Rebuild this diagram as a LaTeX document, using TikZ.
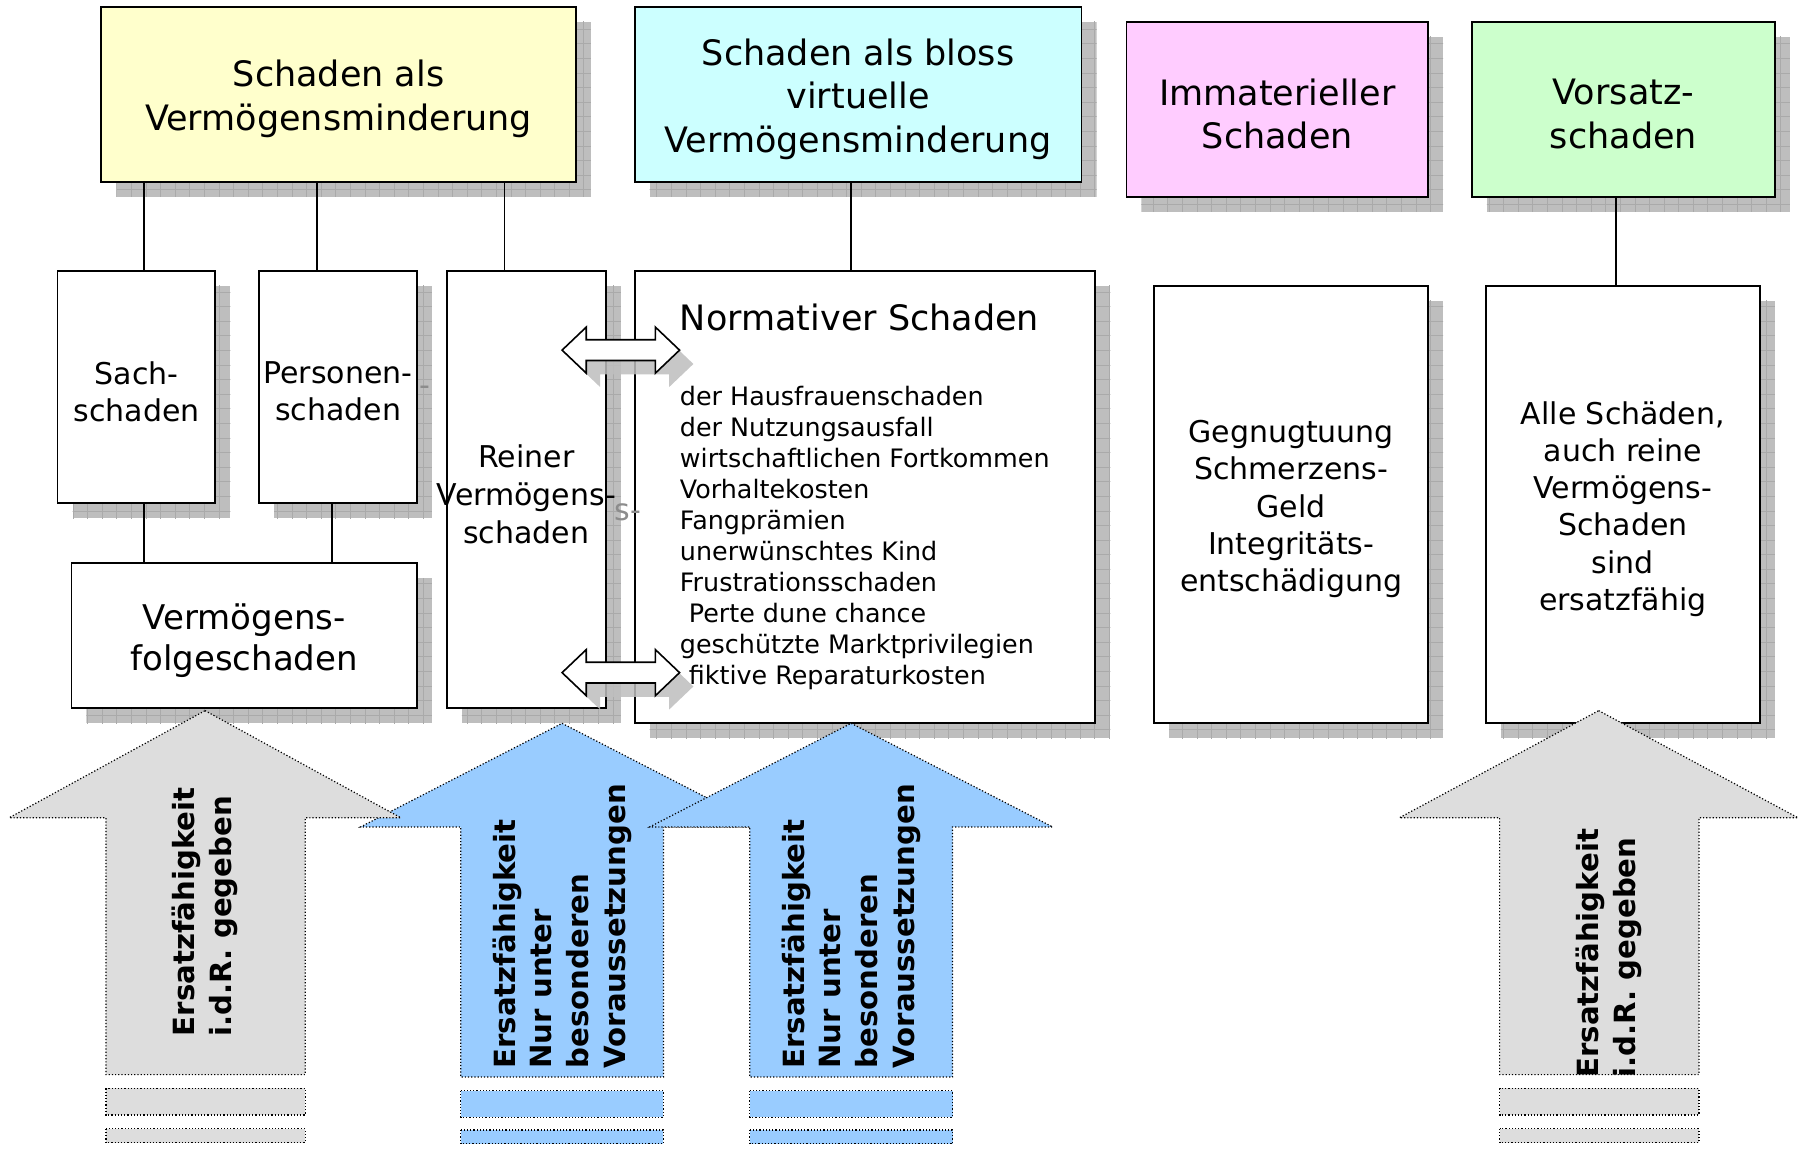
\documentclass[tikz,border=0pt]{standalone}
\usepackage{fontspec}
\setmainfont{DejaVu Sans}
\definecolor{yel}{HTML}{FFFFCC}
\definecolor{cya}{HTML}{CCFFFF}
\definecolor{pin}{HTML}{FFCCFF}
\definecolor{gre}{HTML}{CCFFCC}
\definecolor{arrgrey}{HTML}{DDDDDD}
\definecolor{arrblue}{HTML}{99CCFF}
\definecolor{shfill}{HTML}{BEBEBE}
\definecolor{shline}{HTML}{AAAAAA}
\definecolor{ghostc}{HTML}{8C8C8C}
\tikzset{
  boxst/.style={draw=black, line width=0.9pt, inner sep=0pt, outer sep=0pt},
  boxtext/.style={align=center, inner sep=0pt, yshift=-2.3pt},
  conn/.style={draw=black, line width=0.8pt},
  bigarrow/.style={draw=black, line width=0.6pt, densely dotted},
  arrtext/.style={rotate=90, anchor=west, align=left, inner sep=0pt,
     font=\fontsize{14.6}{18.4}\selectfont\bfseries},
  bigfont/.style={font=\fontsize{17.5}{21.8}\selectfont},
  midfont/.style={font=\fontsize{15}{18.6}\selectfont},
  ghost/.style={text=ghostc, inner sep=0pt, font=\fontsize{15}{18}\selectfont},
}
\newcommand\shadowrect[4]{%
  \begin{scope}
    \clip (#1+13,#2+13) rectangle (#3+13,#4+13);
    \fill[shfill] (#1+13,#2+13) rectangle (#3+13,#4+13);
    \draw[shline, line width=0.4pt, step=7.3pt] (#1,#4+30) grid (#3+30,#2);
  \end{scope}}
\newcommand\diabox[8]{%
  \shadowrect{#2}{#3}{#4}{#5}
  \node[boxst,fill=#6,minimum width={(#4-#2)*0.576pt},minimum height={(#5-#3)*0.576pt}]
     (#1) at ({(#2+#4)/2},{(#3+#5)/2}) {};
  \node[boxtext,#7] (#1-t) at (#1.center) {#8};}
\newcommand\darrpath[2]{(#1-51,#2) -- (#1-30,#2-20) -- (#1-30,#2-9) -- (#1+30,#2-9) --
  (#1+30,#2-20) -- (#1+51,#2) -- (#1+30,#2+20) -- (#1+30,#2+9) -- (#1-30,#2+9) --
  (#1-30,#2+20) -- cycle}
\newcommand\darr[2]{%
  \fill[shfill, opacity=0.85] \darrpath{#1+12}{#2+12};
  \filldraw[draw=black, fill=white, line width=0.8pt] \darrpath{#1}{#2};}
\begin{document}
\begin{tikzpicture}[x=0.576pt,y=-0.576pt]
\fill[white] (0,0) rectangle (1568,998);
\useasboundingbox (0,0) rectangle (1568,998);

% top row
\diabox{A}{88}{6}{500}{158}{yel}{bigfont}{Schaden als\\Vermögensminderung}
\diabox{B}{551}{6}{939}{158}{cya}{bigfont}{Schaden als bloss\\virtuelle\\Vermögensminderung}
\diabox{C}{978}{19}{1240}{171}{pin}{bigfont}{Immaterieller\\Schaden}
\diabox{D}{1278}{19}{1541}{171}{gre}{bigfont}{Vorsatz-\\schaden}

% middle row
\diabox{sach}{50}{235}{187}{437}{white}{midfont}{Sach-\\schaden}
\diabox{pers}{225}{235}{362}{437}{white}{midfont}{Personen-\\schaden}
\diabox{rein}{388}{235}{526}{615}{white}{font=\fontsize{15}{19}\selectfont}{Reiner\\Vermögens-\\schaden}
\diabox{norm}{551}{235}{951}{628}{white}{}{}
\diabox{gegn}{1002}{248}{1240}{628}{white}{midfont}{Gegnugtuung\\Schmerzens-\\Geld\\Integritäts-\\entschädigung}
\diabox{alle}{1290}{248}{1528}{628}{white}{midfont}{Alle Schäden,\\auch reine\\Vermögens-\\Schaden\\sind\\ersatzfähig}
\diabox{vfs}{62}{489}{362}{615}{white}{font=\fontsize{17}{20.7}\selectfont}{Vermögens-\\folgeschaden}

\node[ghost] (g1) at (369,339) {-};
\node[ghost] (g2) at (545,445) {s-};

\node[anchor=west, inner sep=0pt, bigfont] (normtitle) at (590,276) {Normativer Schaden};
\node[anchor=north west, align=left, inner sep=0pt, font=\fontsize{12.7}{15.5}\selectfont]
  (normlist) at (590,335) {der Hausfrauenschaden\\der Nutzungsausfall\\wirtschaftlichen Fortkommen\\Vorhaltekosten\\Fangprämien\\unerwünschtes Kind\\Frustrationsschaden\\\hspace*{0.35em}Perte dune chance\\geschützte Marktprivilegien\\\hspace*{0.35em}fiktive Reparaturkosten};

% connectors
\coordinate (xa) at (125,0);
\coordinate (xb) at (275,0);
\coordinate (xc) at (438,0);
\coordinate (xd) at (739,0);
\coordinate (xe) at (1403,0);
\coordinate (xf) at (288,0);
\draw[conn] (A.south -| xa) -- (sach.north -| xa);
\draw[conn] (A.south -| xb) -- (pers.north -| xb);
\draw[conn] (A.south -| xc) -- (rein.north -| xc);
\draw[conn] (B.south -| xd) -- (norm.north -| xd);
\draw[conn] (D.south -| xe) -- (alle.north -| xe);
\draw[conn] (sach.south -| xa) -- (vfs.north -| xa);
\draw[conn] (pers.south -| xf) -- (vfs.north -| xf);

% double arrows
\darr{539}{304}
\darr{539}{584}

% big arrows
\filldraw[bigarrow, fill=arrblue] (488,628) -- (663,718) -- (576,718) -- (576,935) -- (400,935) -- (400,718) -- (313,718) -- cycle;
\filldraw[bigarrow, fill=arrblue] (400,947) rectangle (576,970);
\filldraw[bigarrow, fill=arrblue] (400,981) rectangle (576,993);
\node[arrtext] (t2) at (488,928) {Ersatzfähigkeit\\Nur unter\\besonderen\\Voraussetzungen};

\filldraw[bigarrow, fill=arrblue] (739,628) -- (914,718) -- (827,718) -- (827,935) -- (651,935) -- (651,718) -- (564,718) -- cycle;
\filldraw[bigarrow, fill=arrblue] (651,947) rectangle (827,970);
\filldraw[bigarrow, fill=arrblue] (651,981) rectangle (827,993);
\node[arrtext] (t3) at (739,928) {Ersatzfähigkeit\\Nur unter\\besonderen\\Voraussetzungen};

\filldraw[bigarrow, fill=arrgrey] (178,617) -- (348,710) -- (265,710) -- (265,933) -- (92,933) -- (92,710) -- (8,710) -- cycle;
\filldraw[bigarrow, fill=arrgrey] (92,945) rectangle (265,968);
\filldraw[bigarrow, fill=arrgrey] (92,980) rectangle (265,992);
\node[arrtext] (t1) at (178,900) {Ersatzfähigkeit\\i.d.R. gegeben};

\filldraw[bigarrow, fill=arrgrey] (1388,617) -- (1561,710) -- (1475,710) -- (1475,933) -- (1302,933) -- (1302,710) -- (1215,710) -- cycle;
\filldraw[bigarrow, fill=arrgrey] (1302,945) rectangle (1475,968);
\filldraw[bigarrow, fill=arrgrey] (1302,980) rectangle (1475,992);
\node[arrtext] (t4) at (1397,936) {Ersatzfähigkeit\\i.d.R. gegeben};
\end{tikzpicture}
\end{document}
